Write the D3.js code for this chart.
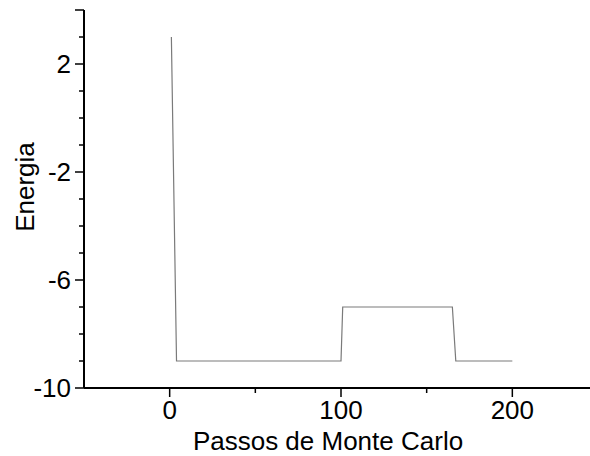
<!DOCTYPE html>
<html><head><meta charset="utf-8">
<script src="https://cdn.jsdelivr.net/npm/d3@7"></script>
<style>body{margin:0;background:#fff}svg{display:block}text{font-family:"Liberation Sans",Arial,sans-serif;fill:#000}</style>
</head><body>
<svg id="c" width="590" height="456"></svg>
<script>
const steps = [1, 4, 100, 101, 165, 167, 200];
const energy = [3, -9, -9, -7, -7, -9, -9];
const xMajorTicks = [0, 100, 200];
const xMinorTicks = [50, 150];
const yMajorTicks = [-10, -6, -2, 2];
const yMinorTicks = [-9, -8, -7, -5, -4, -3, -1, 0, 1, 3];
const yEndTick = [4];

const svg = d3.select("#c");
const x = d3.scaleLinear().domain([-50, 250]).range([84, 598]);
const y = d3.scaleLinear().domain([-10, 4]).range([388, 10]);

svg.append("path")
  .datum(steps.map((s, i) => [s, energy[i]]))
  .attr("fill", "none").attr("stroke", "#7a7a7a").attr("stroke-width", 1.2)
  .attr("d", d3.line().x(d => x(d[0])).y(d => y(d[1])));

const gy = svg.append("g").attr("transform", "translate(84,0)");
gy.append("line").attr("y1", y(4)).attr("y2", y(-10)).attr("stroke", "#000").attr("stroke-width", 2);
gy.selectAll(".ymaj").data(yMajorTicks.concat(yEndTick)).enter().append("line")
  .attr("x1", -9).attr("x2", 0).attr("y1", d => y(d)).attr("y2", d => y(d)).attr("stroke", "#000").attr("stroke-width", 1.5);
gy.selectAll(".ymin").data(yMinorTicks).enter().append("line")
  .attr("x1", -5).attr("x2", 0).attr("y1", d => y(d)).attr("y2", d => y(d)).attr("stroke", "#000").attr("stroke-width", 1.5);
gy.selectAll(".ylab").data(yMajorTicks).enter().append("text")
  .attr("x", -13).attr("y", d => y(d) + 9).attr("text-anchor", "end").attr("font-size", 26).text(d => d);

const gx = svg.append("g").attr("transform", "translate(0,388)");
gx.append("line").attr("x1", 84).attr("x2", 598).attr("stroke", "#000").attr("stroke-width", 2);
gx.selectAll(".xmaj").data(xMajorTicks).enter().append("line")
  .attr("x1", d => x(d)).attr("x2", d => x(d)).attr("y1", 0).attr("y2", 9).attr("stroke", "#000").attr("stroke-width", 1.5);
gx.selectAll(".xmin").data(xMinorTicks).enter().append("line")
  .attr("x1", d => x(d)).attr("x2", d => x(d)).attr("y1", 0).attr("y2", 5).attr("stroke", "#000").attr("stroke-width", 1.5);
gx.selectAll(".xlab").data(xMajorTicks).enter().append("text")
  .attr("x", d => x(d)).attr("y", 31).attr("text-anchor", "middle").attr("font-size", 26).text(d => d);

svg.append("text").attr("x", 328).attr("y", 450).attr("text-anchor", "middle").attr("font-size", 26).text("Passos de Monte Carlo");
svg.append("text").attr("transform", "translate(34,187) rotate(-90)").attr("text-anchor", "middle").attr("font-size", 26).text("Energia");
</script>
</body></html>
